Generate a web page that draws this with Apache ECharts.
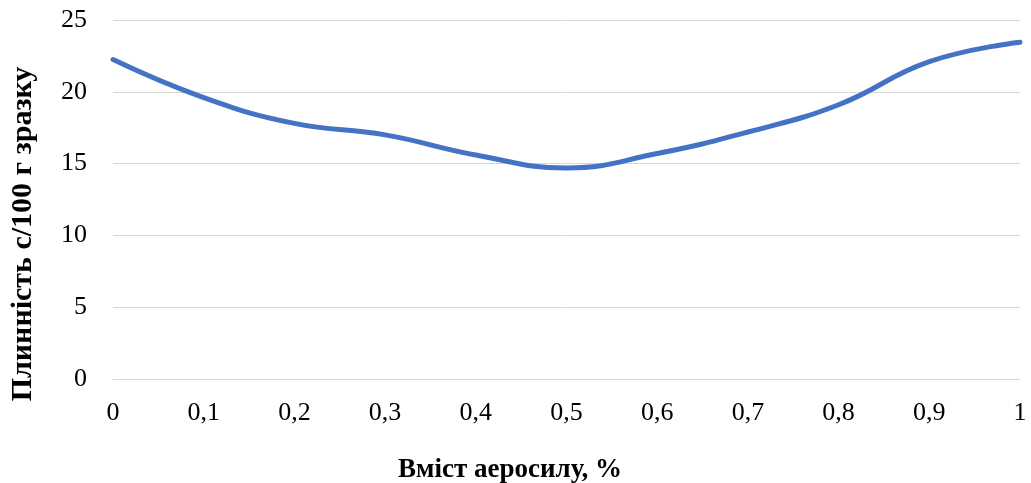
<!DOCTYPE html>
<html><head><meta charset="utf-8">
<script src="https://cdn.jsdelivr.net/npm/echarts@6/dist/echarts.min.js"></script>
<style>html,body{margin:0;padding:0;background:#fff}#c{width:1031px;height:483px}</style>
</head><body><div id="c"></div>
<script>
const xValues = [0, 0.1, 0.2, 0.3, 0.4, 0.5, 0.6, 0.7, 0.8, 0.9, 1];
const yValues = [22.25, 19.6, 17.8, 17.0, 15.6, 14.7, 15.7, 17.2, 19.1, 22.1, 23.45];
const xTitle = 'Вміст аеросилу, %';
const yTitle = 'Плинність с/100 г зразку';

const chart = echarts.init(document.getElementById('c'));
const font = 'Liberation Serif';
chart.setOption({
  animation: false,
  grid: {left: 113, right: 11, top: 20, bottom: 104, containLabel: false},
  xAxis: {
    type: 'value', min: 0, max: 1, interval: 0.1,
    axisLine: {show: true, lineStyle: {color: '#d9d9d9', width: 1}},
    axisTick: {show: false},
    splitLine: {show: false},
    axisLabel: {margin: 21, color: '#000', fontFamily: font, fontSize: 26,
      formatter: v => String(Math.round(v * 10) / 10).replace('.', ',')}
  },
  yAxis: {
    type: 'value', min: 0, max: 25, interval: 5,
    axisLine: {show: false}, axisTick: {show: false},
    splitLine: {lineStyle: {color: '#d9d9d9', width: 1}},
    axisLabel: {margin: 26, color: '#000', fontFamily: font, fontSize: 26}
  },
  graphic: [
    {type: 'text', x: 510, y: 470, style: {text: xTitle, fill: '#000', font: 'bold 27px "Liberation Serif"', align: 'center', verticalAlign: 'middle'}},
    {type: 'text', x: 23, y: 234, rotation: Math.PI / 2, style: {text: yTitle, fill: '#000', font: 'bold 30px "Liberation Serif"', align: 'center', verticalAlign: 'middle'}}
  ],
  series: [{
    type: 'line', smooth: 0.45, showSymbol: false,
    data: xValues.map((x, i) => [x, yValues[i]]),
    lineStyle: {color: '#4472C4', width: 5, cap: 'round'}
  }]
});
</script></body></html>
